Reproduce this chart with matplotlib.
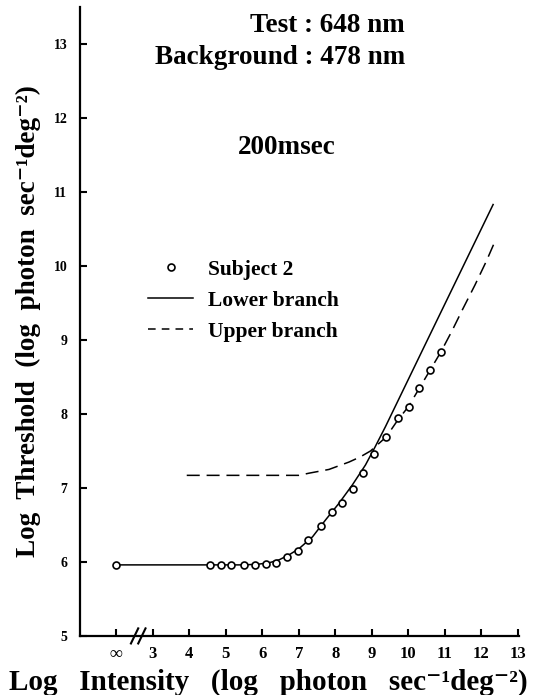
import numpy as np
import matplotlib
matplotlib.use("Agg")
import matplotlib.pyplot as plt
from matplotlib.lines import Line2D
import matplotlib.transforms as mtrans

plt.rcParams['font.family'] = ['Liberation Serif', 'DejaVu Serif']
plt.rcParams['font.weight'] = 'bold'
plt.rcParams['axes.labelweight'] = 'bold'

# subject 2 thresholds (first point = no background, drawn at the "infinity" tick)
subj_x = [2.0, 4.56, 4.86, 5.15, 5.49, 5.80, 6.11, 6.38, 6.67, 6.97, 7.26, 7.61,
          7.90, 8.19, 8.48, 8.76, 9.06, 9.40, 9.72, 10.01, 10.31, 10.60, 10.90]
subj_y = [5.96, 5.96, 5.96, 5.96, 5.96, 5.96, 5.97, 5.98, 6.06, 6.15, 6.29, 6.48,
          6.67, 6.80, 6.98, 7.20, 7.46, 7.69, 7.94, 8.10, 8.35, 8.59, 8.84]

# lower branch (solid)
lower_x = [2.0, 5.5, 5.9, 6.2, 6.47, 6.75, 7.01, 7.38, 7.74, 8.10, 8.47, 8.83,
           9.10, 9.38, 10.47, 12.33]
lower_y = [5.96, 5.96, 5.97, 5.99, 6.03, 6.10, 6.18, 6.34, 6.57, 6.79, 7.04, 7.31,
           7.56, 7.83, 8.94, 10.83]

# upper branch (dashed)
upper_x = [3.93, 7.0, 7.29, 7.83, 8.38, 8.69, 8.97, 9.40, 9.72, 10.01, 10.31,
           10.60, 10.90, 11.20, 11.50, 11.83, 12.14, 12.37]
upper_y = [7.17, 7.17, 7.20, 7.25, 7.35, 7.42, 7.50, 7.69, 7.92, 8.10, 8.35,
           8.59, 8.84, 9.12, 9.42, 9.74, 10.06, 10.32]

xticks = [2, 3, 4, 5, 6, 7, 8, 9, 10, 11, 12, 13]
xticklabels = ['∞', '3', '4', '5', '6', '7', '8', '9', '10', '11', '12', '13']
yticks = [5, 6, 7, 8, 9, 10, 11, 12, 13]

fig = plt.figure(figsize=(5.36, 6.95), dpi=100)
ax = fig.add_axes([0.149, 0.085, 0.82, 0.905])

ax.plot(lower_x, lower_y, color='black', lw=1.1, zorder=2)
ax.plot(upper_x, upper_y, color='black', lw=1.1, dashes=(8.5, 4.5), zorder=2)
ax.plot(subj_x, subj_y, 'o', ms=5, mfc='white', mec='black', mew=1.2, zorder=3)

ax.set_xlim(1, 13.05)
ax.set_ylim(5, 13.5)
ax.set_xticks(xticks)
ax.set_xticklabels(xticklabels)
ax.set_yticks(yticks)
ax.spines['top'].set_visible(False)
ax.spines['right'].set_visible(False)
ax.spines['left'].set_linewidth(1.6)
ax.spines['bottom'].set_linewidth(1.6)
ax.tick_params(direction='in', length=5, width=1.5)
ax.tick_params(axis='y', labelsize=10, pad=9)
ax.tick_params(axis='x', labelsize=12, pad=7)
ax.get_xticklabels()[0].set_fontsize(13)

# axis break marks
tr = mtrans.blended_transform_factory(ax.transData, ax.transAxes)
for bx in [2.5, 2.7]:
    ax.plot([bx - 0.1, bx + 0.1], [-0.012, 0.012], color='black', lw=1.5,
            transform=tr, clip_on=False)

ax.set_ylabel('Log  Threshold  (log  photon  sec⁻¹deg⁻²)', fontsize=19.5)
ax.yaxis.set_label_coords(-0.088, 0.5)
ax.set_xlabel('Log   Intensity   (log   photon   sec⁻¹deg⁻²)', fontsize=21)
ax.xaxis.set_label_coords(0.428, -0.052)

ax.text(0.74, 0.971, 'Test : 648 nm', transform=ax.transAxes, ha='right',
        va='center', fontsize=19.5)
ax.text(0.74, 0.920, 'Background : 478 nm', transform=ax.transAxes, ha='right',
        va='center', fontsize=19.5)
ax.text(0.471, 0.777, '200msec', transform=ax.transAxes, ha='center',
        va='center', fontsize=19.5)

handles = [Line2D([], [], ls='none', marker='o', ms=5, mfc='white', mec='black', mew=1.2),
           Line2D([], [], color='black', lw=1.1),
           Line2D([], [], color='black', lw=1.1, dashes=(5, 4))]
leg = ax.legend(handles, ['Subject 2', 'Lower branch', 'Upper branch'],
                loc='upper left', bbox_to_anchor=(0.155, 0.598), frameon=False,
                borderpad=0, borderaxespad=0,
                fontsize=15.5, handlelength=2.1, labelspacing=0.5, handletextpad=0.7)

fig.savefig('out.png', dpi=100)
